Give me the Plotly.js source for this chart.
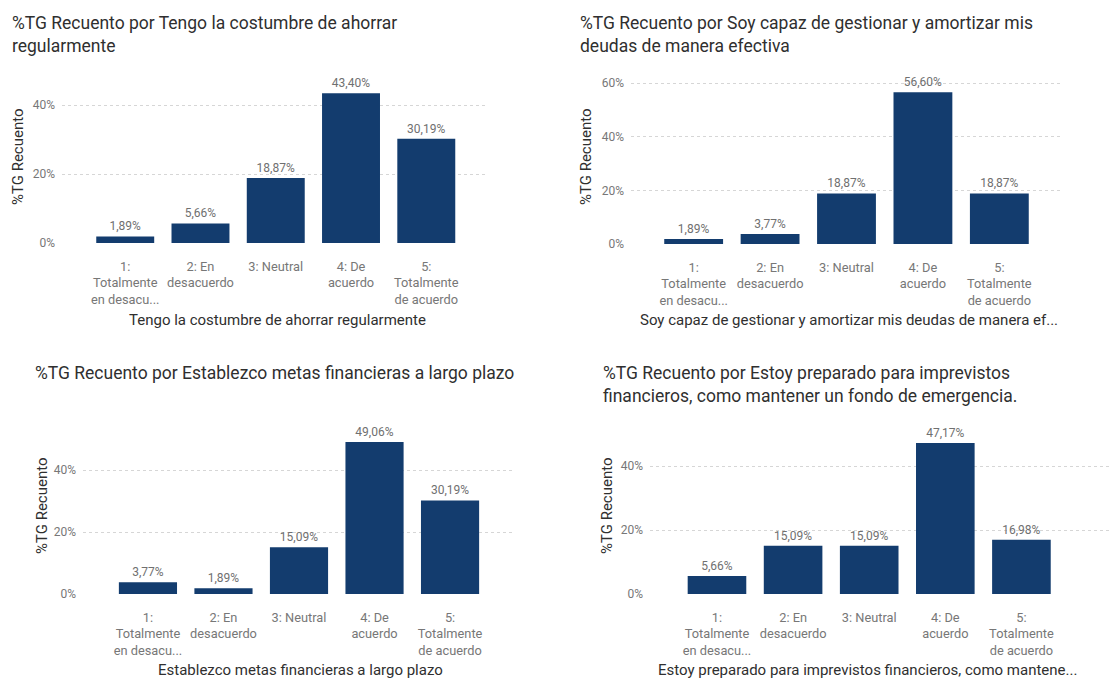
<!DOCTYPE html>
<html>
<head>
<meta charset="utf-8">
<script src="https://cdn.plot.ly/plotly-3.0.1.min.js"></script>
<style>html,body{margin:0;padding:0;background:#fff;}#chart{width:1114px;height:679px;}</style>
</head>
<body>
<div id="chart"></div>
<script>
// ---- data ----
const categories = ["1:<br>Totalmente<br>en desacu...", "2: En<br>desacuerdo", "3: Neutral", "4: De<br>acuerdo", "5:<br>Totalmente<br>de acuerdo"];
const ahorroValues = [1.89, 5.66, 18.87, 43.40, 30.19];
const deudasValues = [1.89, 3.77, 18.87, 56.60, 18.87];
const metasValues = [3.77, 1.89, 15.09, 49.06, 30.19];
const imprevistosValues = [5.66, 15.09, 15.09, 47.17, 16.98];
const chartTitles = [
  "%TG Recuento por Tengo la costumbre de ahorrar<br>regularmente",
  "%TG Recuento por Soy capaz de gestionar y amortizar mis<br>deudas de manera efectiva",
  "%TG Recuento por Establezco metas financieras a largo plazo",
  "%TG Recuento por Estoy preparado para imprevistos<br>financieros, como mantener un fondo de emergencia."
];
const xTitles = [
  "Tengo la costumbre de ahorrar regularmente",
  "Soy capaz de gestionar y amortizar mis deudas de manera ef...",
  "Establezco metas financieras a largo plazo",
  "Estoy preparado para imprevistos financieros, como mantene..."
];
const yTitle = "%TG Recuento";

// ---- layout geometry (pixels) ----
const W = 1114, H = 679;
const panels = [
  {vals: ahorroValues,      x0: 62,  x1: 488,  yTop: 77.4, yBot: 243, ymax: 48, xr: [-0.84, 4.82], ticks: [0,20,40],
   title: [10, 11], xt: [277, 320], yt: [18, 157]},
  {vals: deudasValues,      x0: 631, x1: 1062, yTop: 75.2, yBot: 244, ymax: 63, xr: [-0.82, 4.82], ticks: [0,20,40,60],
   title: [578, 11], xt: [849, 320], yt: [586, 157]},
  {vals: metasValues,       x0: 83,  x1: 515,  yTop: 432.8, yBot: 594, ymax: 52, xr: [-0.86, 4.86], ticks: [0,20,40],
   title: [33, 361], xt: [300, 670], yt: [42, 506]},
  {vals: imprevistosValues, x0: 650, x1: 1112, yTop: 434, yBot: 594, ymax: 50, xr: [-0.88, 5.19], ticks: [0,20,40],
   title: [601, 361], xt: [867, 670], yt: [607, 506]}
];

const barColor = "#133C6E";
const fmt = v => v.toFixed(2).replace(".", ",") + "%";

const traces = [];
const layout = {
  width: W, height: H,
  margin: {l: 0, r: 0, t: 0, b: 0},
  paper_bgcolor: "#fff", plot_bgcolor: "#fff",
  showlegend: false,
  bargap: 0.23,
  font: {family: "Roboto, 'Noto Sans', sans-serif", color: "#666"},
  annotations: []
};

panels.forEach((p, i) => {
  const n = i === 0 ? "" : String(i + 1);
  traces.push({
    type: "bar",
    x: categories,
    y: p.vals,
    xaxis: "x" + n, yaxis: "y" + n,
    marker: {color: barColor},
    text: p.vals.map(fmt),
    textposition: "outside",
    cliponaxis: false,
    textfont: {size: 12, color: "#707070", family: "Roboto, sans-serif"},
    hoverinfo: "none"
  });
  layout["xaxis" + n] = {
    domain: [p.x0 / W, p.x1 / W],
    anchor: "y" + n,
    range: p.xr,
    showgrid: false, zeroline: false, showline: false,
    ticks: "",
    ticklabelstandoff: 14,
    tickfont: {size: 12.8, color: "#777", family: "Roboto, sans-serif"},
    fixedrange: true
  };
  layout["yaxis" + n] = {
    domain: [1 - p.yBot / H, 1 - p.yTop / H],
    anchor: "x" + n,
    range: [0, p.ymax],
    tickvals: p.ticks,
    ticktext: p.ticks.map(t => t + "%"),
    showgrid: true, gridcolor: "#d6d6d6", griddash: "dot", gridwidth: 1,
    zeroline: false, showline: false,
    ticks: "",
    ticklabelstandoff: 6,
    tickfont: {size: 12, color: "#777", family: "Roboto, sans-serif"},
    fixedrange: true
  };
  layout.annotations.push({
    xref: "paper", yref: "paper",
    x: p.title[0] / W, y: 1 - p.title[1] / H,
    xanchor: "left", yanchor: "top", align: "left",
    text: chartTitles[i], showarrow: false,
    font: {size: 17.5, color: "#2f2f2f", family: "Roboto, sans-serif"}
  });
  layout.annotations.push({
    xref: "paper", yref: "paper",
    x: p.xt[0] / W, y: 1 - p.xt[1] / H,
    xanchor: "center", yanchor: "middle",
    text: xTitles[i], showarrow: false,
    font: {size: 15, color: "#2f2f2f", family: "Roboto, sans-serif"}
  });
  layout.annotations.push({
    xref: "paper", yref: "paper",
    x: p.yt[0] / W, y: 1 - p.yt[1] / H,
    xanchor: "center", yanchor: "middle", textangle: -90,
    text: yTitle, showarrow: false,
    font: {size: 15, color: "#2f2f2f", family: "Roboto, sans-serif"}
  });
});

Plotly.newPlot("chart", traces, layout, {displayModeBar: false, staticPlot: true});
</script>
</body>
</html>
